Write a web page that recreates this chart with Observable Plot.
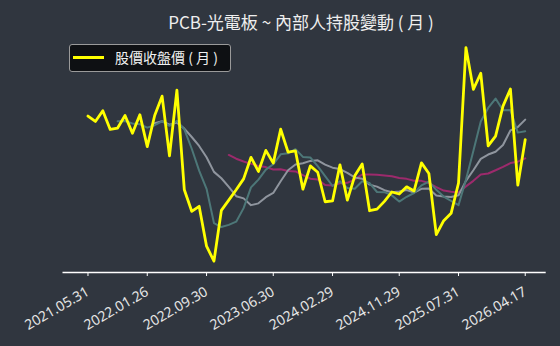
<!DOCTYPE html>
<html>
<head>
<meta charset="utf-8">
<script src="https://cdn.jsdelivr.net/npm/d3@7"></script>
<script src="https://cdn.jsdelivr.net/npm/@observablehq/plot@0.6"></script>
<style>
  html, body { margin: 0; padding: 0; background: #30363f; }
  #wrap { position: relative; width: 560px; height: 346px; background: #30363f; overflow: hidden; }
  #title { position: absolute; left: 21px; width: 560px; top: 13px; text-align: center; line-height: 17px;
           font-family: "Noto Sans CJK TC", "Noto Sans", sans-serif; font-size: 17px; color: #eeeeee; white-space: pre; }
  #legend { position: absolute; left: 69px; top: 44px; width: 160px; height: 26px;
            background: #0e1013; border: 1px solid #9a9a9a; border-radius: 3px; box-sizing: content-box; }
  #legend .sw { position: absolute; left: 3px; top: 11px; width: 31px; height: 3px; background: #ffff00; }
  #legend .lb { position: absolute; left: 45px; top: 5px; font-family: "Noto Sans CJK TC", sans-serif;
                font-size: 14px; line-height: 14px; color: #f0f0f0; white-space: pre; }
  svg { position: absolute; left: 0; top: 0; }
</style>
</head>
<body>
<div id="wrap">
  <div id="title">PCB-光電板 ~ 內部人持股變動 ( 月 )</div>
  <div id="legend"><div class="sw"></div><div class="lb">股價收盤價 ( 月 )</div></div>
</div>
<script>
// monthly closing price (2021.05 .. 2026.04), one value per month
const price = [82, 79.3, 84.7, 75.3, 76, 82.3, 73.4, 82.7, 66.7, 82.3, 92, 62, 95, 45, 34.2, 36.7, 16.7, 9.2, 34.7, 39.8,
  45, 50.5, 61.3, 54.2, 64.8, 58.4, 75.4, 63.9, 64.5, 45.3, 57, 53.8, 39, 39.4, 57.5, 39.8, 52, 58, 34.5, 35.3,
  39.2, 43.9, 42.9, 46.5, 44.4, 58.5, 53.2, 22.5, 29.5, 33.2, 48.4, 116.4, 95.4, 103.5, 67, 71.9, 87, 95.6, 47.3, 70.2];
// teal line
const lineA = [null, null, null, null, 79.4, 79.5, 78.3, 77.9, 76.2, 77.4, 79.4, 77.1, 79.6, 75.3, 65.6, 54.6, 45.5, 28.3, 26.3, 27.4,
  29.0, 35.8, 46.2, 50.1, 55.1, 57.8, 62.8, 63.3, 65.4, 61.5, 61.2, 56.9, 51.9, 46.9, 49.3, 45.9, 45.5, 49.3, 48.4, 43.9,
  43.8, 42.2, 39.1, 41.5, 43.4, 47.2, 49.1, 45.0, 41.6, 39.4, 37.3, 50.0, 64.5, 79.3, 86.1, 90.8, 84.9, 85.0, 73.7, 74.4];
// light gray line
const lineB = [null, null, null, null, null, null, null, null, null, 78.4, 79.4, 77.7, 78.7, 75.7, 71.5, 67.0, 61.3, 54.0, 50.8, 46.5,
  41.8, 40.7, 37.3, 38.2, 41.3, 43.4, 49.3, 54.8, 57.7, 58.3, 59.5, 59.8, 57.6, 56.1, 55.4, 53.5, 51.2, 50.6, 47.6, 46.6,
  44.8, 43.8, 44.2, 44.9, 43.6, 45.5, 45.6, 42.1, 41.6, 41.4, 42.3, 49.5, 54.8, 60.5, 62.7, 64.1, 67.5, 74.8, 76.5, 80.2];
// magenta line
const lineC = [null, null, null, null, null, null, null, null, null, null, null, null, null, null, null, null, null, null, null, 62.5,
  60.6, 59.2, 58.0, 57.0, 56.4, 55.2, 55.3, 54.4, 54.2, 52.4, 50.6, 50.2, 47.4, 47.2, 48.3, 48.5, 50.2, 52.7, 52.7, 52.5,
  52.2, 51.8, 50.9, 50.5, 49.5, 49.5, 48.4, 46.3, 44.6, 44.0, 43.6, 46.7, 49.5, 52.7, 53.2, 54.8, 56.5, 58.4, 59.1, 60.8];
// x tick positions (month index) and labels
const tickIndex = [0, 8, 16, 25, 33, 42, 50, 59];
const tickLabels = ["2021.05.31", "2022.01.26", "2022.09.30", "2023.06.30", "2024.02.29", "2024.11.29", "2025.07.31", "2026.04.17"];

const idx = price.map((_, i) => i);
const series = (arr) => idx.map(i => ({i, v: arr[i]}));
const yDomain = [3.5, 140];

const chart = Plot.plot({
  width: 560,
  height: 346,
  marginLeft: 62.5,
  marginRight: 14.3,
  marginTop: 0,
  marginBottom: 74,
  style: {background: "transparent", color: "#e6e6e6", fontFamily: "'Noto Sans', 'DejaVu Sans', sans-serif"},
  x: {type: "linear", domain: [-3.37, 61.83]},
  y: {type: "linear", domain: yDomain, axis: null},
  marks: [
    Plot.ruleY([yDomain[0]], {stroke: "#ffffff", strokeWidth: 1.3}),
    Plot.axisX({ticks: tickIndex, tickFormat: (d) => tickLabels[tickIndex.indexOf(d)], tickRotate: -30,
      tickSize: 4, tickPadding: 14, fontSize: 14, stroke: "#ffffff", fill: "#e6e6e6", label: null}),
    Plot.line(series(lineC), {x: "i", y: "v", stroke: "#9c2a6c", strokeWidth: 2, defined: d => d.v != null}),
    Plot.line(series(lineB), {x: "i", y: "v", stroke: "#8f959e", strokeWidth: 2, defined: d => d.v != null}),
    Plot.line(series(lineA), {x: "i", y: "v", stroke: "#4d7778", strokeWidth: 2, defined: d => d.v != null}),
    Plot.line(series(price), {x: "i", y: "v", stroke: "#ffff00", strokeWidth: 2.8})
  ]
});
document.getElementById("wrap").insertBefore(chart, document.getElementById("title"));
</script>
</body>
</html>
